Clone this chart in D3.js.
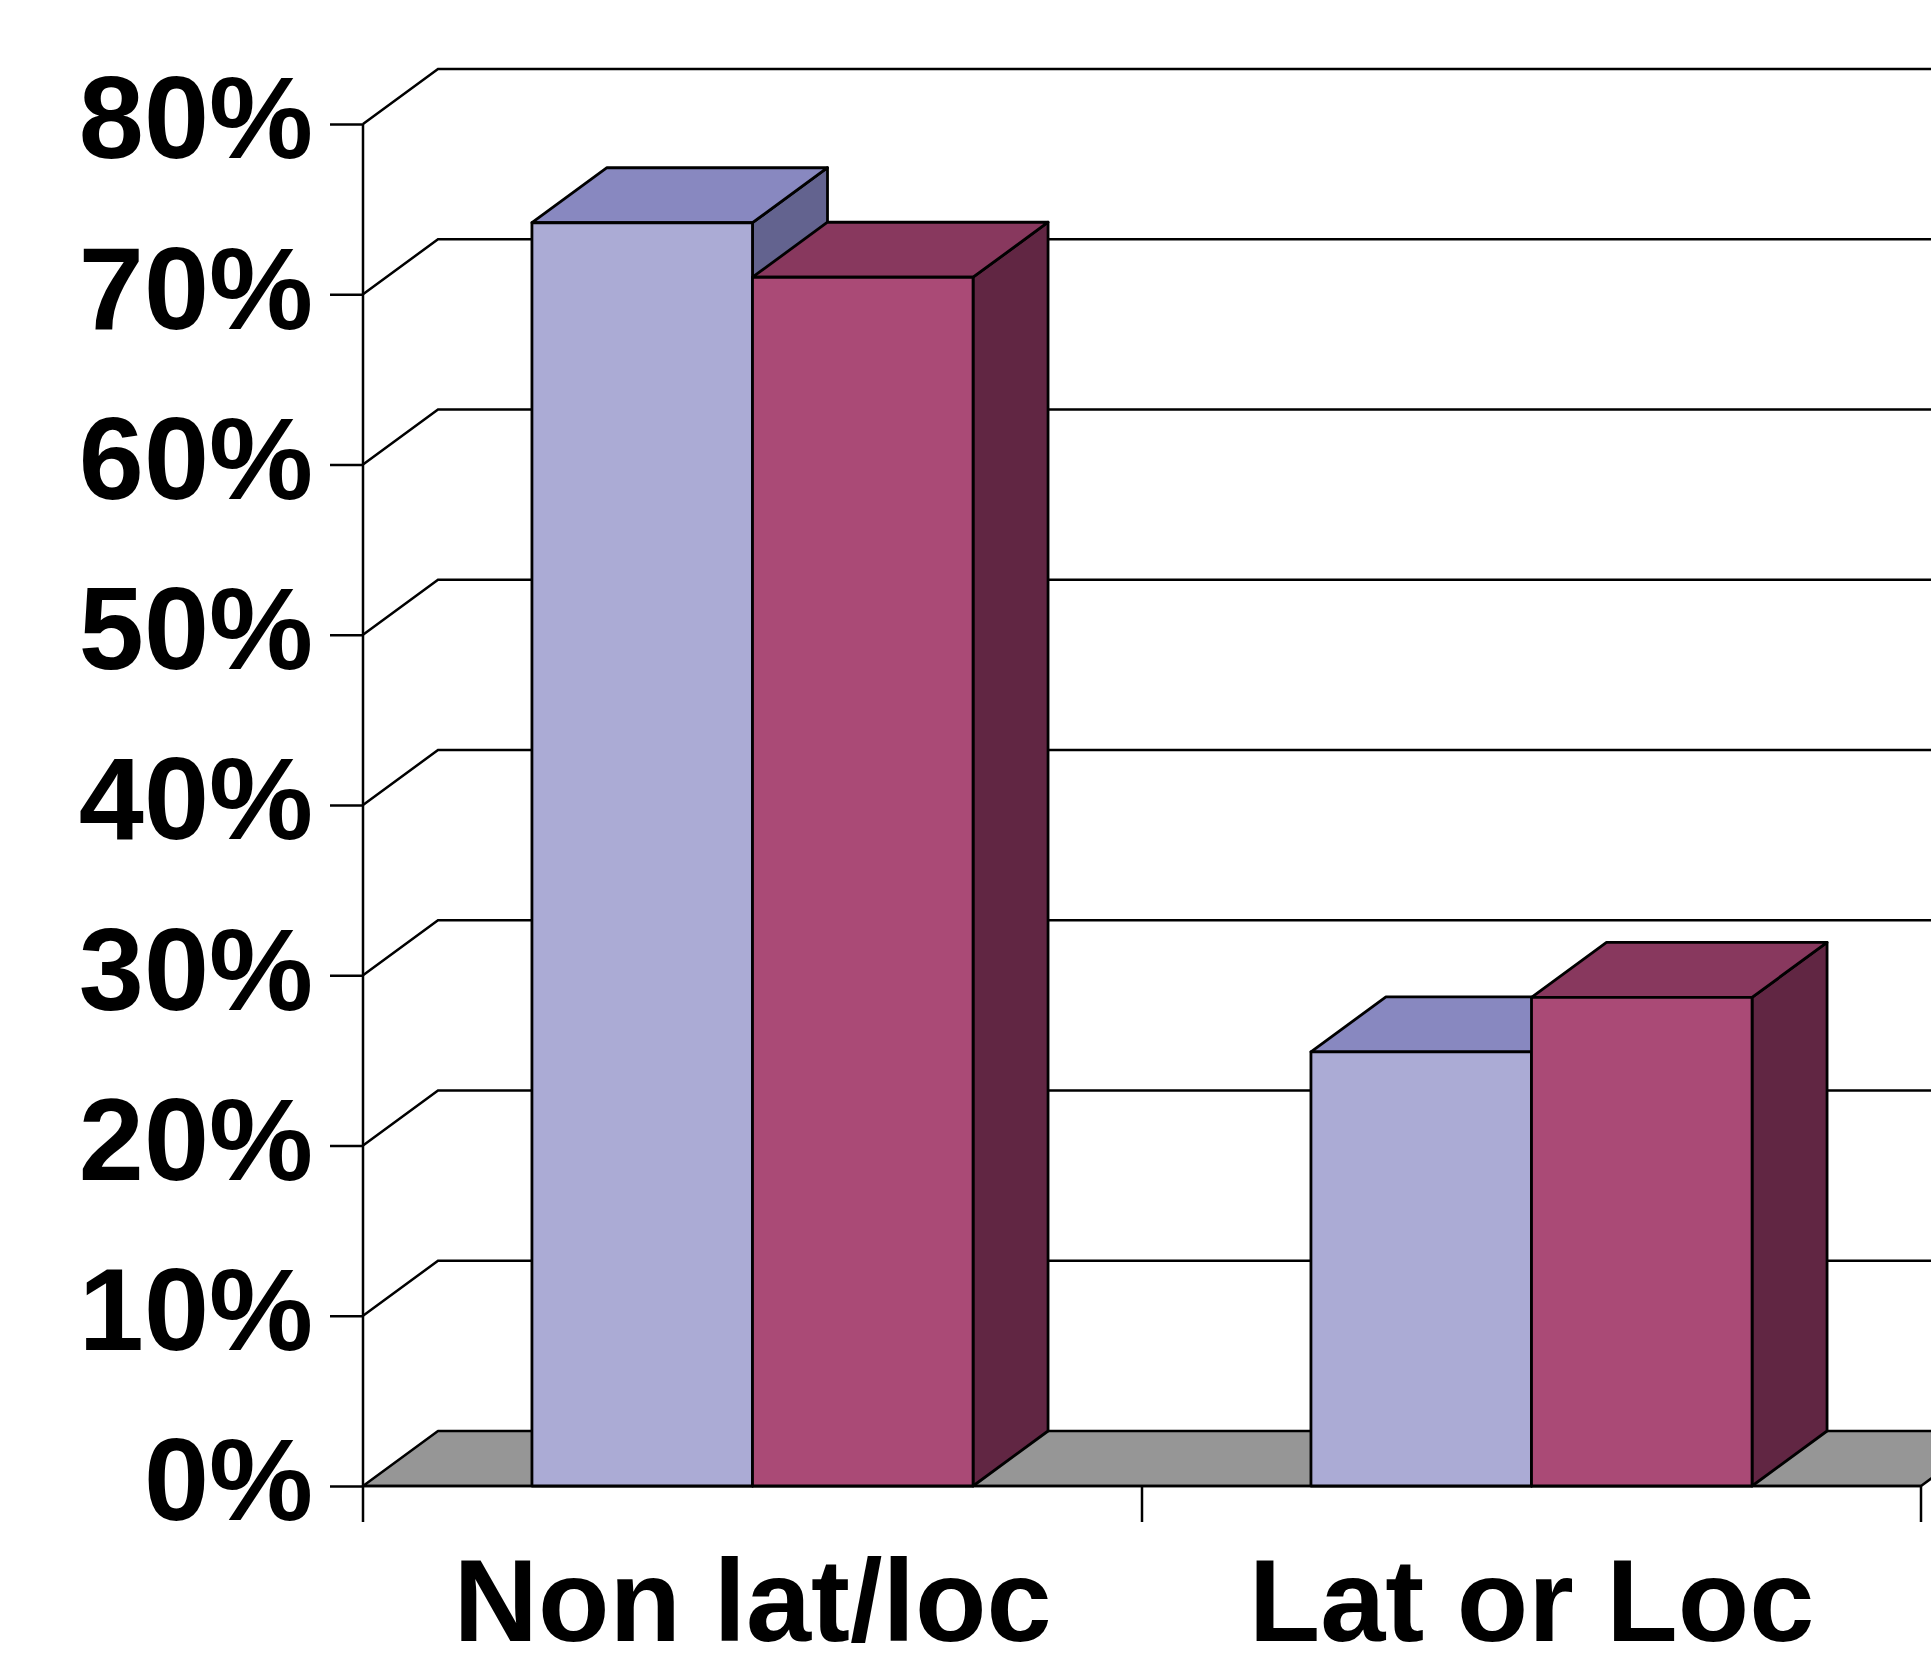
<!DOCTYPE html>
<html>
<head>
<meta charset="utf-8">
<script src="https://cdn.jsdelivr.net/npm/d3@7"></script>
<style>
  body { margin: 0; background: #fff; }
  #chart { width: 1931px; height: 1668px; }
  text { font-family: "Liberation Sans", Arial, sans-serif; font-weight: bold; fill: #000; }
</style>
</head>
<body>
<div id="chart"></div>
<script>
  /*DEFINE DATA SET*/
  const categories = ["Non lat/loc", "Lat or Loc"];
  const seriesNames = ["Series 1", "Series 2"];
  const series1 = [0.742, 0.255];
  const series2 = [0.710, 0.287];
  const yTicks = [0, 0.1, 0.2, 0.3, 0.4, 0.5, 0.6, 0.7, 0.8];

  /*
  SETTING UP THE SVG CANVAS
  */
  const width = 1931;
  const height = 1668;
  const margin = {top: 124, left: 363, right: 10, bottom: 182};
  const depth = {x: 75, y: 55};

  const svg = d3.select("#chart")
    .append("svg")
    .attr("width", width)
    .attr("height", height);

  /*DEFINE SCALES*/
  const xScale = d3.scaleBand()
    .domain(categories)
    .range([margin.left, width - margin.right]);

  const xInner = d3.scaleBand()
    .domain(seriesNames)
    .range([0, xScale.bandwidth()])
    .paddingInner(0)
    .paddingOuter(0.766);

  const yScale = d3.scaleLinear()
    .domain([0, 0.8])
    .range([height - margin.bottom, margin.top]);

  const colors = {
    "Series 1": {front: "#ababd5", top: "#8888c0", side: "#63638f"},
    "Series 2": {front: "#aa4a76", top: "#88385e", side: "#612643"}
  };

  const y0 = yScale(0);
  const xLeft = xScale.range()[0];
  const xRight = xScale.range()[1];

  /*FLOOR*/
  svg.append("path")
    .attr("d", `M${xLeft},${y0} L${xRight},${y0} L${xRight + depth.x},${y0 - depth.y} L${xLeft + depth.x},${y0 - depth.y} Z`)
    .attr("fill", "#969696")
    .attr("stroke", "#000")
    .attr("stroke-width", 2.5)
    .attr("stroke-linejoin", "round");

  /*BACK WALL GRIDLINES*/
  svg.selectAll(".grid")
    .data(yTicks.filter(d => d > 0))
    .enter()
    .append("path")
      .attr("class", "grid")
      .attr("d", d => `M${xLeft},${yScale(d)} L${xLeft + depth.x},${yScale(d) - depth.y} L${width + 100},${yScale(d) - depth.y}`)
      .attr("fill", "none")
      .attr("stroke", "#000")
      .attr("stroke-width", 2.5);

  /*GENERATE AXES*/
  const yAxis = svg.append("g")
    .attr("transform", `translate(${xLeft},0)`)
    .call(d3.axisLeft(yScale)
      .tickValues(yTicks)
      .tickFormat(d3.format(".0%"))
      .tickSize(33)
      .tickPadding(17));

  yAxis.select(".domain").remove();
  yAxis.selectAll(".tick line").attr("stroke", "#000").attr("stroke-width", 2.5);
  yAxis.selectAll(".tick text")
    .attr("font-size", 117)
    .attr("dy", "0.29em")
    .style("font-family", "'Liberation Sans', Arial, sans-serif")
    .style("font-weight", "bold")
    .attr("fill", "#000");

  svg.append("line")
    .attr("x1", xLeft).attr("x2", xLeft)
    .attr("y1", yScale(0.8)).attr("y2", y0 + 36)
    .attr("stroke", "#000")
    .attr("stroke-width", 2.5);

  // category separators below the floor
  const boundaries = categories.map(c => xScale(c)).concat([xRight]);
  svg.selectAll(".xtick")
    .data(boundaries.slice(1))
    .enter()
    .append("line")
      .attr("class", "xtick")
      .attr("x1", d => d).attr("x2", d => d)
      .attr("y1", y0).attr("y2", y0 + 36)
      .attr("stroke", "#000")
      .attr("stroke-width", 2.5);

  svg.append("line")
    .attr("x1", xLeft).attr("x2", xRight)
    .attr("y1", y0).attr("y2", y0)
    .attr("stroke", "#000")
    .attr("stroke-width", 2.5);

  /*DRAW THE MARKS */
  const bars = [];
  categories.forEach((c, i) => {
    bars.push({cat: c, series: seriesNames[0], value: series1[i]});
    bars.push({cat: c, series: seriesNames[1], value: series2[i]});
  });

  const bar = svg.selectAll(".bar")
    .data(bars)
    .enter()
    .append("g")
      .attr("class", "bar")
      .attr("stroke", "#000")
      .attr("stroke-width", 2.8)
      .attr("stroke-linejoin", "round");

  const geom = d => {
    const x = xScale(d.cat) + xInner(d.series);
    const w = xInner.bandwidth();
    const yt = yScale(d.value);
    return {x, w, yt};
  };

  // side face
  bar.append("path")
    .attr("d", d => {
      const g = geom(d);
      return `M${g.x + g.w},${g.yt} L${g.x + g.w + depth.x},${g.yt - depth.y} L${g.x + g.w + depth.x},${y0 - depth.y} L${g.x + g.w},${y0} Z`;
    })
    .attr("fill", d => colors[d.series].side);

  // top face
  bar.append("path")
    .attr("d", d => {
      const g = geom(d);
      return `M${g.x},${g.yt} L${g.x + depth.x},${g.yt - depth.y} L${g.x + g.w + depth.x},${g.yt - depth.y} L${g.x + g.w},${g.yt} Z`;
    })
    .attr("fill", d => colors[d.series].top);

  // front face
  bar.append("rect")
    .attr("x", d => geom(d).x)
    .attr("y", d => geom(d).yt)
    .attr("width", xInner.bandwidth())
    .attr("height", d => y0 - geom(d).yt)
    .attr("fill", d => colors[d.series].front);

  /*ADDING CATEGORY LABELS */
  svg.selectAll(".catLabel")
    .data(categories)
    .enter()
    .append("text")
      .attr("class", "catLabel")
      .attr("x", d => xScale(d) + xScale.bandwidth() / 2)
      .attr("y", 1641)
      .attr("text-anchor", "middle")
      .attr("font-size", 117)
      .text(d => d);
</script>
</body>
</html>
